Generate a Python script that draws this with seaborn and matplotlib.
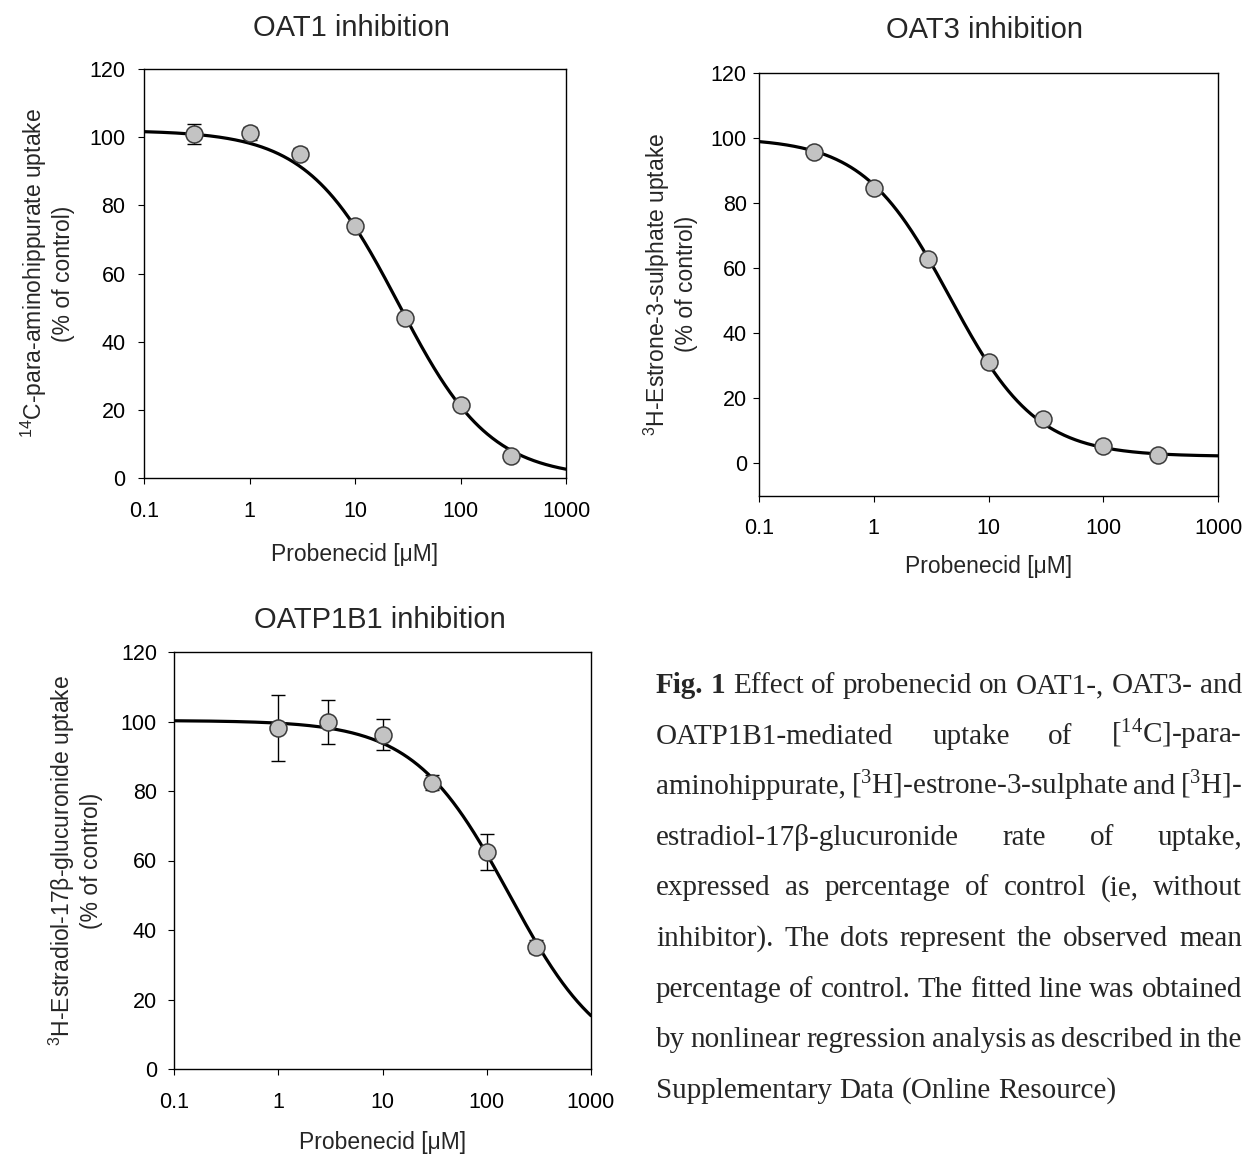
import numpy as np
import pandas as pd
import matplotlib
matplotlib.use("Agg")
import matplotlib.pyplot as plt
from matplotlib.ticker import NullLocator, FixedLocator, FixedFormatter
import seaborn as sns

# ---------------- data ----------------
conc_oat1 = [0.3, 1, 3, 10, 30, 100, 300]
uptake_oat1 = [100.9, 101.1, 95.2, 73.8, 46.9, 21.5, 6.5]
sd_oat1 = [3.0, 2.0, 1.5, 1.2, 1.2, 1.0, 0.8]
fit_oat1 = [102.0, 0.0, 26.0, 1.0]          # top, bottom, IC50, Hill slope

conc_oat3 = [0.3, 1, 3, 10, 30, 100, 300]
uptake_oat3 = [95.7, 84.4, 62.6, 30.9, 13.4, 5.1, 2.5]
sd_oat3 = [1.0, 1.5, 1.5, 1.5, 1.0, 0.6, 0.5]
fit_oat3 = [100.0, 2.0, 4.6, 1.15]

conc_oatp = [1, 3, 10, 30, 100, 300]
uptake_oatp = [98.1, 99.8, 96.2, 82.4, 62.5, 35.2]
sd_oatp = [9.6, 6.3, 4.5, 2.2, 5.2, 1.8]
fit_oatp = [100.3, 0.0, 165.0, 0.95]

titles = ["OAT1 inhibition", "OAT3 inhibition", "OATP1B1 inhibition"]
ylabels = [
    "$^{14}$C-para-aminohippurate uptake\n(% of control)",
    "$^{3}$H-Estrone-3-sulphate uptake\n(% of control)",
    "$^{3}$H-Estradiol-17\u03b2-glucuronide uptake\n(% of control)",
]
xlabel = "Probenecid [\u03bcM]"
xticks = [0.1, 1, 10, 100, 1000]
xtick_labels = ["0.1", "1", "10", "100", "1000"]
yticks = [0, 20, 40, 60, 80, 100, 120]
ylims = [(0, 120), (-10, 120), (0, 120)]

caption_lines = [
    [("Fig.", "bold"), ("1", "bold"), ("Effect", "normal"), ("of", "normal"), ("probenecid", "normal"),
     ("on", "normal"), ("OAT1-,", "normal"), ("OAT3-", "normal"), ("and", "normal")],
    [("OATP1B1-mediated", "normal"), ("uptake", "normal"), ("of", "normal"), ("[$^{14}$C]-para-", "normal")],
    [("aminohippurate,", "normal"), ("[$^{3}$H]-estrone-3-sulphate", "normal"), ("and", "normal"), ("[$^{3}$H]-", "normal")],
    [("estradiol-17\u03b2-glucuronide", "normal"), ("rate", "normal"), ("of", "normal"), ("uptake,", "normal")],
    [("expressed", "normal"), ("as", "normal"), ("percentage", "normal"), ("of", "normal"), ("control", "normal"),
     ("(ie,", "normal"), ("without", "normal")],
    [("inhibitor).", "normal"), ("The", "normal"), ("dots", "normal"), ("represent", "normal"), ("the", "normal"),
     ("observed", "normal"), ("mean", "normal")],
    [("percentage", "normal"), ("of", "normal"), ("control.", "normal"), ("The", "normal"), ("fitted", "normal"),
     ("line", "normal"), ("was", "normal"), ("obtained", "normal")],
    [("by", "normal"), ("nonlinear", "normal"), ("regression", "normal"), ("analysis", "normal"), ("as", "normal"),
     ("described", "normal"), ("in", "normal"), ("the", "normal")],
    [("Supplementary", "normal"), ("Data", "normal"), ("(Online", "normal"), ("Resource)", "normal")],
]

# ---------------- style ----------------
sns.set_style("ticks")
plt.rcParams["font.family"] = ["Liberation Sans", "DejaVu Sans"]
plt.rcParams["mathtext.default"] = "regular"

W, H = 1247, 1156
fig = plt.figure(figsize=(W / 100, H / 100), dpi=100)
fig.patch.set_facecolor("white")


def rect(l, t, r, b):
    return [l / W, 1 - b / H, (r - l) / W, (b - t) / H]


panels = [
    dict(box=(144, 69, 566, 478), conc=conc_oat1, y=uptake_oat1, sd=sd_oat1, fit=fit_oat1,
         title_xy=(351, 28), ylab_x=47, xlab_y=555, ypad=9),
    dict(box=(759, 72.7, 1218, 495.5), conc=conc_oat3, y=uptake_oat3, sd=sd_oat3, fit=fit_oat3,
         title_xy=(985, 30), ylab_x=670, xlab_y=566, ypad=4.5),
    dict(box=(174, 652, 591, 1069), conc=conc_oatp, y=uptake_oatp, sd=sd_oatp, fit=fit_oatp,
         title_xy=(380, 620), ylab_x=75, xlab_y=1143, ypad=8),
]


def logistic(x, top, bottom, ic50, hill):
    return bottom + (top - bottom) / (1 + (x / ic50) ** hill)


for i, p in enumerate(panels):
    l, t, r, b = p["box"]
    ax = fig.add_axes(rect(l, t, r, b))
    ax.set_xscale("log")
    ax.set_xlim(0.1, 1000)
    ax.set_ylim(*ylims[i])

    xs = np.logspace(-1, 3, 500)
    curve = pd.DataFrame({"x": xs, "y": logistic(xs, *p["fit"])})
    sns.lineplot(data=curve, x="x", y="y", ax=ax, color="black", lw=2.3, zorder=2, sort=True)

    ax.errorbar(p["conc"], p["y"], yerr=p["sd"], fmt="none", ecolor="black",
                elinewidth=1.0, capsize=5, capthick=1.0, zorder=3)
    pts = pd.DataFrame({"x": p["conc"], "y": p["y"]})
    sns.scatterplot(data=pts, x="x", y="y", ax=ax, s=150, color="#c3c3c3",
                    edgecolor="#3a3a3a", linewidth=1.1, zorder=4)

    ax.xaxis.set_major_locator(FixedLocator(xticks))
    ax.xaxis.set_major_formatter(FixedFormatter(xtick_labels))
    ax.xaxis.set_minor_locator(NullLocator())
    ax.set_yticks(yticks)

    for s in ax.spines.values():
        s.set_visible(True)
        s.set_color("black")
        s.set_linewidth(1.0)
    ax.tick_params(axis="both", direction="out", length=4.3, width=0.8, colors="black",
                   labelsize=15.5, top=False, right=False)
    ax.tick_params(axis="x", pad=12)
    ax.tick_params(axis="y", pad=p["ypad"])

    hpx = b - t
    wpx = r - l
    ax.set_xlabel(xlabel, fontsize=16.5, va="center")
    ax.xaxis.set_label_coords(0.5, -(p["xlab_y"] - b) / hpx)
    ax.set_ylabel(ylabels[i], fontsize=16.5, va="center", linespacing=1.2)
    ax.yaxis.set_label_coords((p["ylab_x"] - l) / wpx, 0.5)

    tx, ty = p["title_xy"]
    fig.text(tx / W, 1 - ty / H, titles[i], fontsize=21, ha="center", va="center")

# ---------------- caption (justified) ----------------
cap_left, cap_right = 656, 1242
first_base, line_step = 693, 50.6
fig.canvas.draw()
renderer = fig.canvas.get_renderer()
serif = ["Liberation Serif", "DejaVu Serif"]
sp1 = fig.text(0, 0, "a a", fontsize=21, family=serif)
sp2 = fig.text(0, 0, "aa", fontsize=21, family=serif)
space = sp1.get_window_extent(renderer).width - sp2.get_window_extent(renderer).width
sp1.remove()
sp2.remove()
for li, words in enumerate(caption_lines):
    ybase = 1 - (first_base + li * line_step) / H
    objs = []
    widths = []
    for w, wt in words:
        tobj = fig.text(0, ybase, w, fontsize=21, family=serif, fontweight=wt,
                        ha="left", va="baseline")
        bb = tobj.get_window_extent(renderer)
        objs.append(tobj)
        widths.append(bb.width)
    last = li == len(caption_lines) - 1
    if last or len(words) == 1:
        gap = space
    else:
        gap = (cap_right - cap_left - sum(widths)) / (len(words) - 1)
    x = cap_left
    for tobj, wd in zip(objs, widths):
        tobj.set_x(x / W)
        x += wd + gap

fig.savefig("out.png", dpi=100, facecolor="white")
